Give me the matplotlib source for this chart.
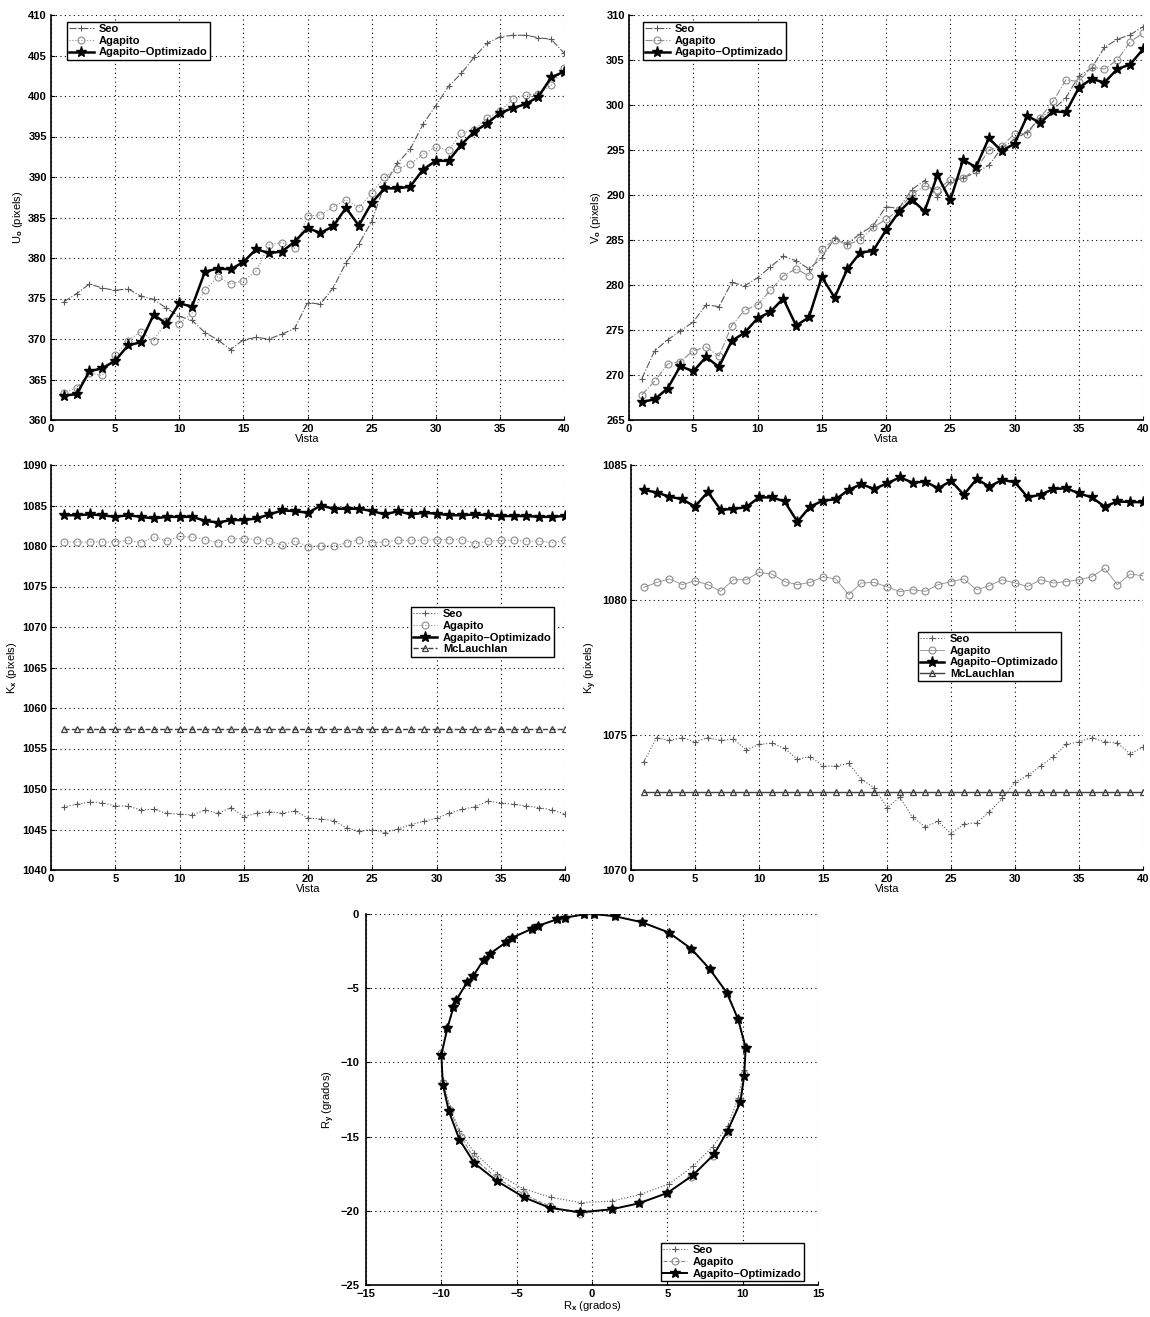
import numpy as np
import matplotlib
matplotlib.use('Agg')
import matplotlib.pyplot as plt

plt.rcParams['font.family'] = ['Liberation Sans', 'DejaVu Sans']
plt.rcParams['font.size'] = 8
plt.rcParams['font.weight'] = 'bold'
plt.rcParams['mathtext.fontset'] = 'custom'
plt.rcParams['mathtext.rm'] = 'Liberation Sans:bold'
plt.rcParams['mathtext.bf'] = 'Liberation Sans:bold'

# vistas 1..40
vista = np.arange(1, 41)

# U0 (pixels)
u0_seo = [374.6, 375.6, 376.8, 376.3, 376.0, 376.2, 375.3, 374.9, 373.8, 372.8,
          372.3, 370.8, 369.9, 368.7, 369.9, 370.2, 370.0, 370.6, 371.3, 374.5,
          374.3, 376.3, 379.4, 381.7, 384.5, 389.0, 391.7, 393.4, 396.5, 398.8,
          401.2, 402.8, 404.8, 406.5, 407.3, 407.5, 407.5, 407.2, 407.0, 405.3]
u0_agap = [363.3, 364.0, 365.8, 365.5, 368.0, 369.8, 370.9, 369.8, 372.2, 371.9,
           373.2, 376.0, 377.7, 376.8, 377.2, 378.4, 381.6, 381.9, 381.2, 385.2,
           385.3, 386.3, 387.2, 386.2, 388.0, 390.0, 391.0, 391.6, 392.8, 393.7,
           393.3, 395.4, 395.8, 397.3, 398.1, 399.6, 400.1, 400.3, 401.3, 403.5]
u0_opt = [363.0, 363.2, 366.0, 366.4, 367.3, 369.2, 369.6, 373.0, 371.9, 374.4,
          374.0, 378.3, 378.7, 378.6, 379.5, 381.1, 380.6, 380.8, 382.0, 383.7,
          383.1, 383.9, 386.2, 384.0, 386.8, 388.6, 388.6, 388.8, 390.9, 392.0,
          392.0, 394.0, 395.6, 396.6, 397.9, 398.5, 399.0, 399.9, 402.3, 403.0]

# V0 (pixels)
v0_seo = [269.6, 272.7, 273.9, 274.9, 275.9, 277.8, 277.6, 280.3, 279.9, 280.8,
          282.0, 283.2, 282.7, 281.8, 283.0, 285.2, 284.6, 285.7, 286.6, 288.7,
          288.5, 290.6, 291.6, 289.8, 291.5, 291.9, 292.5, 293.3, 295.2, 296.2,
          297.0, 298.6, 299.5, 300.8, 303.2, 304.1, 306.4, 307.3, 307.8, 308.7]
v0_agap = [267.8, 269.3, 271.2, 271.5, 272.7, 273.1, 272.1, 275.5, 277.2, 277.8,
           279.4, 281.0, 281.8, 281.0, 284.0, 285.0, 284.5, 285.0, 286.4, 287.3,
           288.3, 290.1, 291.0, 290.6, 291.7, 291.9, 292.8, 295.0, 295.4, 296.8,
           296.8, 298.6, 300.4, 302.8, 302.6, 304.2, 304.0, 305.0, 307.0, 308.0]
v0_opt = [267.0, 267.3, 268.5, 271.0, 270.4, 272.0, 270.9, 273.8, 274.7, 276.3,
          277.0, 278.5, 275.5, 276.4, 280.9, 278.6, 281.8, 283.6, 283.8, 286.1,
          288.1, 289.5, 288.2, 292.2, 289.4, 293.9, 293.1, 296.3, 294.9, 295.7,
          298.8, 298.0, 299.3, 299.2, 301.9, 302.9, 302.5, 304.0, 304.5, 306.2]

# Kx (pixels)
kx_seo = [1047.8, 1048.1, 1048.4, 1048.3, 1047.9, 1047.9, 1047.4, 1047.5, 1047.0, 1046.9,
          1046.8, 1047.4, 1047.0, 1047.7, 1046.6, 1047.0, 1047.2, 1047.0, 1047.3, 1046.4,
          1046.3, 1046.1, 1045.2, 1044.8, 1045.0, 1044.6, 1045.1, 1045.6, 1046.0, 1046.4,
          1047.0, 1047.5, 1047.8, 1048.5, 1048.3, 1048.1, 1047.9, 1047.7, 1047.4, 1046.9]
kx_agap = [1080.5, 1080.5, 1080.5, 1080.5, 1080.5, 1080.7, 1080.4, 1081.1, 1080.6, 1081.2,
           1081.1, 1080.8, 1080.4, 1080.9, 1080.9, 1080.8, 1080.6, 1080.1, 1080.6, 1079.9,
           1080.0, 1080.0, 1080.4, 1080.8, 1080.4, 1080.5, 1080.7, 1080.7, 1080.7, 1080.8,
           1080.8, 1080.8, 1080.3, 1080.6, 1080.7, 1080.7, 1080.6, 1080.6, 1080.4, 1080.7]
kx_opt = [1083.8, 1083.8, 1083.9, 1083.8, 1083.6, 1083.8, 1083.6, 1083.4, 1083.6, 1083.6,
          1083.6, 1083.1, 1082.9, 1083.2, 1083.2, 1083.4, 1083.9, 1084.4, 1084.3, 1084.1,
          1085.0, 1084.6, 1084.6, 1084.6, 1084.3, 1083.9, 1084.3, 1083.9, 1084.1, 1084.0,
          1083.8, 1083.8, 1083.9, 1083.8, 1083.7, 1083.7, 1083.7, 1083.6, 1083.6, 1083.7]
kx_mcl = [1057.4] * 40

# Ky (pixels)
ky_seo = [1074.0, 1074.9, 1074.8, 1074.9, 1074.75, 1074.9, 1074.8, 1074.85, 1074.45, 1074.65,
          1074.7, 1074.5, 1074.1, 1074.2, 1073.85, 1073.85, 1073.95, 1073.35, 1073.05, 1072.3,
          1072.7, 1071.95, 1071.6, 1071.8, 1071.35, 1071.7, 1071.75, 1072.15, 1072.65, 1073.25,
          1073.5, 1073.85, 1074.2, 1074.65, 1074.75, 1074.9, 1074.75, 1074.7, 1074.3, 1074.55]
ky_agap = [1080.47, 1080.65, 1080.78, 1080.57, 1080.71, 1080.57, 1080.32, 1080.75, 1080.75, 1081.02,
           1080.96, 1080.68, 1080.57, 1080.65, 1080.86, 1080.78, 1080.2, 1080.63, 1080.65, 1080.49,
           1080.31, 1080.38, 1080.32, 1080.57, 1080.68, 1080.78, 1080.38, 1080.53, 1080.75, 1080.63,
           1080.5, 1080.75, 1080.63, 1080.68, 1080.75, 1080.86, 1081.17, 1080.57, 1080.96, 1080.9]
ky_opt = [1084.08, 1083.98, 1083.83, 1083.73, 1083.46, 1084.0, 1083.34, 1083.37, 1083.44, 1083.8,
          1083.8, 1083.65, 1082.9, 1083.46, 1083.68, 1083.73, 1084.08, 1084.29, 1084.11, 1084.32,
          1084.54, 1084.35, 1084.38, 1084.14, 1084.41, 1083.9, 1084.48, 1084.2, 1084.45, 1084.36,
          1083.8, 1083.9, 1084.11, 1084.14, 1083.95, 1083.8, 1083.46, 1083.65, 1083.63, 1083.62]
ky_mcl = [1072.9] * 40

# Rx, Ry (grados)
rx_seo = [0.1, 1.5, 3.3, 5.1, 6.6, 7.8, 8.9, 9.7, 10.1, 10.1,
          9.7, 9.0, 8.0, 6.7, 5.1, 3.2, 1.3, -0.7, -2.7, -4.6,
          -6.3, -7.8, -8.8, -9.4, -9.9, -10.0, -9.6, -9.2, -9.0, -8.3,
          -7.9, -7.2, -6.8, -5.7, -5.3, -4.0, -3.6, -2.3, -1.8, -0.5]
ry_seo = [0.0, -0.15, -0.55, -1.25, -2.4, -3.7, -5.3, -7.1, -9.0, -10.5,
          -12.4, -14.3, -15.7, -17.0, -18.2, -18.9, -19.35, -19.45, -19.1, -18.5,
          -17.5, -16.1, -14.6, -13.1, -11.2, -9.4, -7.6, -6.2, -5.7, -4.6,
          -4.2, -3.1, -2.7, -1.9, -1.6, -1.0, -0.8, -0.35, -0.25, -0.02]
rx_agap = [0.1, 1.5, 3.3, 5.1, 6.6, 7.8, 8.95, 9.7, 10.2, 10.1,
           9.8, 9.0, 8.0, 6.6, 5.0, 3.1, 1.3, -0.8, -2.8, -4.5,
           -6.3, -7.8, -8.7, -9.4, -9.9, -10.0, -9.6, -9.2, -9.0, -8.3,
           -7.9, -7.2, -6.8, -5.7, -5.3, -4.0, -3.6, -2.3, -1.8, -0.5]
ry_agap = [0.0, -0.15, -0.55, -1.25, -2.35, -3.7, -5.3, -7.1, -9.0, -10.8,
           -12.6, -14.7, -16.3, -17.7, -18.8, -19.5, -19.9, -20.2, -19.7, -18.9,
           -17.8, -16.5, -15.0, -13.2, -11.4, -9.4, -7.7, -6.3, -5.8, -4.6,
           -4.2, -3.1, -2.7, -1.9, -1.6, -1.0, -0.8, -0.35, -0.25, -0.02]
rx_opt = [0.1, 1.5, 3.3, 5.1, 6.6, 7.8, 8.95, 9.7, 10.2, 10.1,
          9.85, 9.0, 8.1, 6.7, 5.0, 3.1, 1.3, -0.8, -2.8, -4.5,
          -6.3, -7.8, -8.8, -9.5, -9.9, -10.0, -9.6, -9.2, -9.0, -8.3,
          -7.9, -7.2, -6.8, -5.7, -5.3, -4.0, -3.6, -2.3, -1.8, -0.5]
ry_opt = [0.0, -0.15, -0.55, -1.25, -2.35, -3.7, -5.3, -7.1, -9.0, -10.9,
          -12.7, -14.6, -16.2, -17.6, -18.8, -19.5, -19.9, -20.1, -19.8, -19.1,
          -18.0, -16.8, -15.2, -13.3, -11.5, -9.5, -7.7, -6.3, -5.8, -4.6,
          -4.2, -3.1, -2.7, -1.9, -1.6, -1.0, -0.8, -0.35, -0.25, -0.02]

W, H = 1150, 1317
fig = plt.figure(figsize=(W / 100, H / 100), dpi=100)


def px_axes(l, t, r, b):
    return fig.add_axes([l / W, 1 - b / H, (r - l) / W, (b - t) / H])


def style(ax, xlim, ylim, xstep, ystep, xlabel, ylabel):
    ax.set_xlim(*xlim)
    ax.set_ylim(*ylim)
    ax.set_xticks(np.arange(xlim[0], xlim[1] + 0.1, xstep))
    ax.set_yticks(np.arange(ylim[0], ylim[1] + 0.1, ystep))
    ax.grid(True, color='black', linestyle=(0, (1, 3)), linewidth=0.8)
    ax.tick_params(direction='in', length=3, width=0.8, labelsize=8)
    ax.tick_params(axis='x', pad=3)
    ax.tick_params(axis='y', pad=3)
    for s in ['top', 'right']:
        ax.spines[s].set_visible(False)
    for s in ['left', 'bottom']:
        ax.spines[s].set_linewidth(1.2)
    ax.set_xlabel(xlabel, labelpad=0, fontsize=8)
    ax.set_ylabel(ylabel, labelpad=2, fontsize=8)


def legend(ax, **kw):
    leg = ax.legend(fontsize=8, fancybox=False, edgecolor='black', framealpha=1,
                    borderpad=0.2, labelspacing=0.15, handlelength=2.2,
                    handletextpad=0.5, borderaxespad=0, **kw)
    leg.get_frame().set_linewidth(1.0)
    return leg


seo_kw = dict(color='0.35', linewidth=0.8, marker='+', markersize=5, markeredgewidth=0.8)
agap_kw = dict(color='0.55', linewidth=0.8, marker='o', markersize=5, markerfacecolor='none',
               markeredgewidth=0.8)
opt_kw = dict(color='black', linewidth=1.8, marker='*', markersize=8)
mcl_kw = dict(color='0.25', linewidth=1.0, linestyle='--', marker='^', markersize=5,
              markerfacecolor='none', markeredgewidth=0.9)

# U0
ax1 = px_axes(51, 15, 564, 420)
ax1.plot(vista, u0_seo, linestyle='-.', label='Seo', **seo_kw)
ax1.plot(vista, u0_agap, linestyle=':', label='Agapito', **agap_kw)
ax1.plot(vista, u0_opt, linestyle='-', label='Agapito\u2013Optimizado', **opt_kw)
style(ax1, (0, 40), (360, 410), 5, 5, 'Vista', 'U$_\\mathrm{o}$ (pixels)')
legend(ax1, loc='upper left', bbox_to_anchor=(0.031, 0.983))

# V0
ax2 = px_axes(629, 15, 1143, 420)
ax2.plot(vista, v0_seo, linestyle='-.', label='Seo', **seo_kw)
ax2.plot(vista, v0_agap, linestyle='-.', label='Agapito', **agap_kw)
ax2.plot(vista, v0_opt, linestyle='-', label='Agapito\u2013Optimizado', **opt_kw)
style(ax2, (0, 40), (265, 310), 5, 5, 'Vista', 'V$_\\mathrm{o}$ (pixels)')
legend(ax2, loc='upper left', bbox_to_anchor=(0.027, 0.983))

# Kx
ax3 = px_axes(51, 465, 565, 870)
ax3.plot(vista, kx_seo, linestyle=':', label='Seo', **seo_kw)
ax3.plot(vista, kx_agap, linestyle=':', label='Agapito', **agap_kw)
ax3.plot(vista, kx_opt, linestyle='-', label='Agapito\u2013Optimizado', **opt_kw)
ax3.plot(vista, kx_mcl, label='McLauchlan', **mcl_kw)
style(ax3, (0, 40), (1040, 1090), 5, 5, 'Vista', 'K$_\\mathrm{x}$ (pixels)')
legend(ax3, loc='upper left', bbox_to_anchor=(0.70, 0.649))

# Ky
ax4 = px_axes(631, 465, 1143, 870)
ax4.plot(vista, ky_seo, linestyle=':', label='Seo', **seo_kw)
ax4.plot(vista, ky_agap, linestyle='-', label='Agapito', **dict(agap_kw, linewidth=0.6))
ax4.plot(vista, ky_opt, linestyle='-', label='Agapito\u2013Optimizado', **opt_kw)
ax4.plot(vista, ky_mcl, label='McLauchlan', **dict(mcl_kw, linestyle='-'))
style(ax4, (0, 40), (1070, 1085), 5, 5, 'Vista', 'K$_\\mathrm{y}$ (pixels)')
legend(ax4, loc='upper left', bbox_to_anchor=(0.56, 0.588))

# Rx / Ry
ax5 = px_axes(366, 914, 818, 1285)
ax5.plot(rx_seo, ry_seo, linestyle=':', label='Seo', **seo_kw)
ax5.plot(rx_agap, ry_agap, linestyle='--', label='Agapito', **agap_kw)
ax5.plot(rx_opt, ry_opt, linestyle='-', label='Agapito\u2013Optimizado',
         **dict(opt_kw, linewidth=1.4, markersize=7))
style(ax5, (-15, 15), (-25, 0), 5, 5, 'R$_\\mathrm{x}$ (grados)', 'R$_\\mathrm{y}$ (grados)')
ax5.tick_params(axis='y', pad=5)
legend(ax5, loc='lower right', bbox_to_anchor=(0.969, 0.011))

fig.savefig('out.png', dpi=100)
